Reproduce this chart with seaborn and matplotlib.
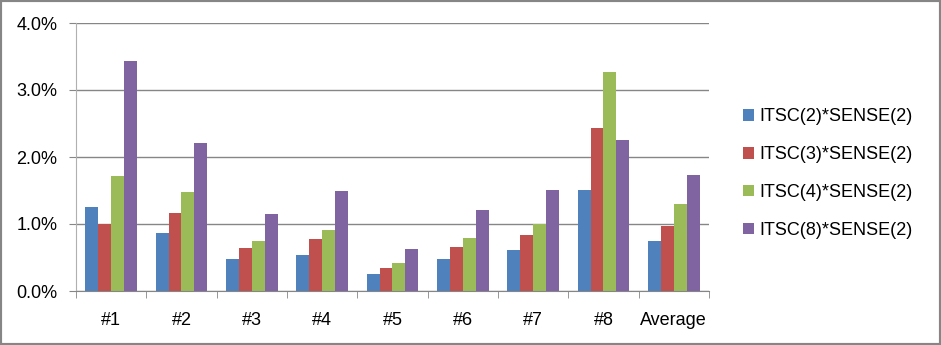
import numpy as np
import pandas as pd
import matplotlib
matplotlib.use('Agg')
import matplotlib.pyplot as plt
import seaborn as sns
from matplotlib.ticker import PercentFormatter, FixedLocator
from matplotlib.patches import Rectangle

# categorias e séries (valores em %)
categorias = ['#1', '#2', '#3', '#4', '#5', '#6', '#7', '#8', 'Average']
series = ['ITSC(2)*SENSE(2)', 'ITSC(3)*SENSE(2)', 'ITSC(4)*SENSE(2)', 'ITSC(8)*SENSE(2)']
itsc2 = [1.25, 0.87, 0.48, 0.54, 0.25, 0.48, 0.61, 1.51, 0.75]
itsc3 = [1.00, 1.16, 0.64, 0.77, 0.35, 0.65, 0.84, 2.44, 0.97]
itsc4 = [1.72, 1.48, 0.75, 0.91, 0.42, 0.79, 1.00, 3.27, 1.30]
itsc8 = [3.43, 2.21, 1.15, 1.49, 0.63, 1.21, 1.51, 2.25, 1.73]
cores = ['#4F81BD', '#C0504D', '#9BBB59', '#8064A2']

linhas = []
for nome, valores in zip(series, [itsc2, itsc3, itsc4, itsc8]):
    for cat, v in zip(categorias, valores):
        linhas.append({'cat': cat, 'serie': nome, 'valor': v})
dados = pd.DataFrame(linhas)

plt.rcParams['font.family'] = ['Liberation Sans', 'DejaVu Sans']

fig = plt.figure(figsize=(9.41, 3.45), dpi=100)
ax = fig.add_axes([76 / 941, 54 / 345, 633 / 941, 268 / 345])

sns.barplot(data=dados, x='cat', y='valor', hue='serie', order=categorias,
            hue_order=series, palette=cores, width=0.73, saturation=1,
            ax=ax, errorbar=None)

ax.set_ylim(0, 4)
ax.set_xlim(-0.5, len(categorias) - 0.5)
ax.set_yticks([0, 1, 2, 3, 4])
ax.yaxis.set_major_formatter(PercentFormatter(decimals=1))
ax.grid(axis='y', color='#868686', linewidth=1)
ax.set_axisbelow(True)
ax.set_xlabel('')
ax.set_ylabel('')

for lado in ['top', 'right']:
    ax.spines[lado].set_visible(False)
ax.spines['left'].set_color('#b0b0b0')
ax.spines['bottom'].set_color('#868686')

# marcas entre os grupos
ax.xaxis.set_minor_locator(FixedLocator(np.arange(-0.5, len(categorias), 1)))
ax.tick_params(axis='x', which='major', length=0, pad=15, labelsize=13)
ax.tick_params(axis='x', which='minor', length=5, color='#868686', direction='out')
ax.tick_params(axis='y', length=5, color='#868686', labelsize=13, pad=8.5)

ax.legend(loc='center left', bbox_to_anchor=(1.040, 0.438), frameon=False,
          fontsize=13, borderpad=0, handlelength=0.6, handleheight=0.6,
          handletextpad=0.3, labelspacing=1.15)

# borda cinza da figura
fig.add_artist(Rectangle((0, 0), 1, 1, transform=fig.transFigure, fill=False,
                         edgecolor='#868686', linewidth=3))

plt.savefig('out.png', dpi=100)
plt.close()
